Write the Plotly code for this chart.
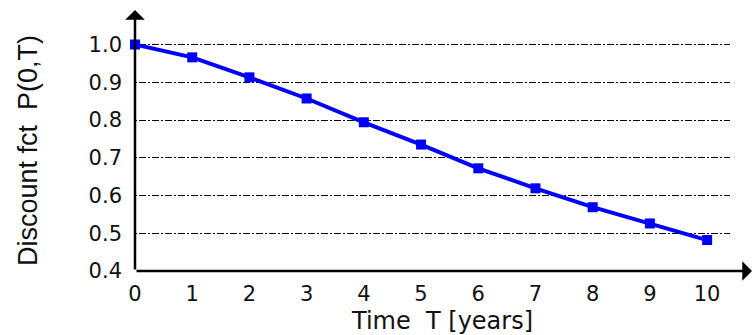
import plotly.graph_objects as go

# Data
years = [0, 1, 2, 3, 4, 5, 6, 7, 8, 9, 10]
discount = [1.0, 0.966, 0.913, 0.857, 0.794, 0.735, 0.672, 0.619, 0.569, 0.526, 0.482]
x_ticks = [0, 1, 2, 3, 4, 5, 6, 7, 8, 9, 10]
y_ticks = [0.4, 0.5, 0.6, 0.7, 0.8, 0.9, 1.0]
x_title = "Time  T [years]"
y_title = "Discount fct  P(0,T)"

W, H = 753, 335
L, R, T, B = 135, 23, 43, 64

fig = go.Figure()
fig.add_trace(go.Scatter(
    x=years, y=discount, mode="lines+markers",
    line=dict(color="#0000ff", width=4),
    marker=dict(symbol="square", size=10, color="#0000ff"),
    cliponaxis=False, showlegend=False,
))

tick_font = dict(family="DejaVu Sans", size=21, color="#111111")
fig.update_layout(
    width=W, height=H,
    margin=dict(l=L, r=R, t=T, b=B, pad=0),
    paper_bgcolor="white", plot_bgcolor="white",
    xaxis=dict(range=[0, 10.4], tickvals=x_ticks, showgrid=False, zeroline=False,
               showline=False, ticks="", ticklabelstandoff=8, tickfont=tick_font),
    yaxis=dict(range=[0.4, 1.004], tickvals=y_ticks, tickformat=".1f",
               showgrid=True, gridcolor="black", gridwidth=1,
               griddash="2px,2px,7px,2px", zeroline=False, showline=False,
               ticks="", ticklabelstandoff=12, tickfont=tick_font),
)

pw = W - L - R
ph = H - T - B
# axes with arrows
fig.add_annotation(xref="paper", yref="paper", x=(752 - L) / pw, y=0, ax=-(752 - L), ay=0,
                   text="", showarrow=True, arrowhead=1, arrowsize=1.3, arrowwidth=2.5,
                   arrowcolor="black")
fig.add_annotation(xref="paper", yref="paper", x=0, y=(H - B - 10) / ph, ax=0, ay=(H - B - 10),
                   text="", showarrow=True, arrowhead=1, arrowsize=1.3, arrowwidth=2.5,
                   arrowcolor="black")
# titles
fig.add_annotation(xref="paper", yref="paper", x=(442 - L) / pw, y=-(321 - (H - B)) / ph,
                   text=x_title, showarrow=False, xanchor="center", yanchor="middle",
                   font=dict(family="DejaVu Sans", size=24, color="#111111"))
fig.add_annotation(xref="paper", yref="paper", x=-(L - 28) / pw, y=(H - B - 151) / ph,
                   text=y_title, showarrow=False, textangle=-90, xanchor="center", yanchor="middle",
                   font=dict(family="Liberation Sans", size=27, color="#111111"))

fig.write_html("out.html")
